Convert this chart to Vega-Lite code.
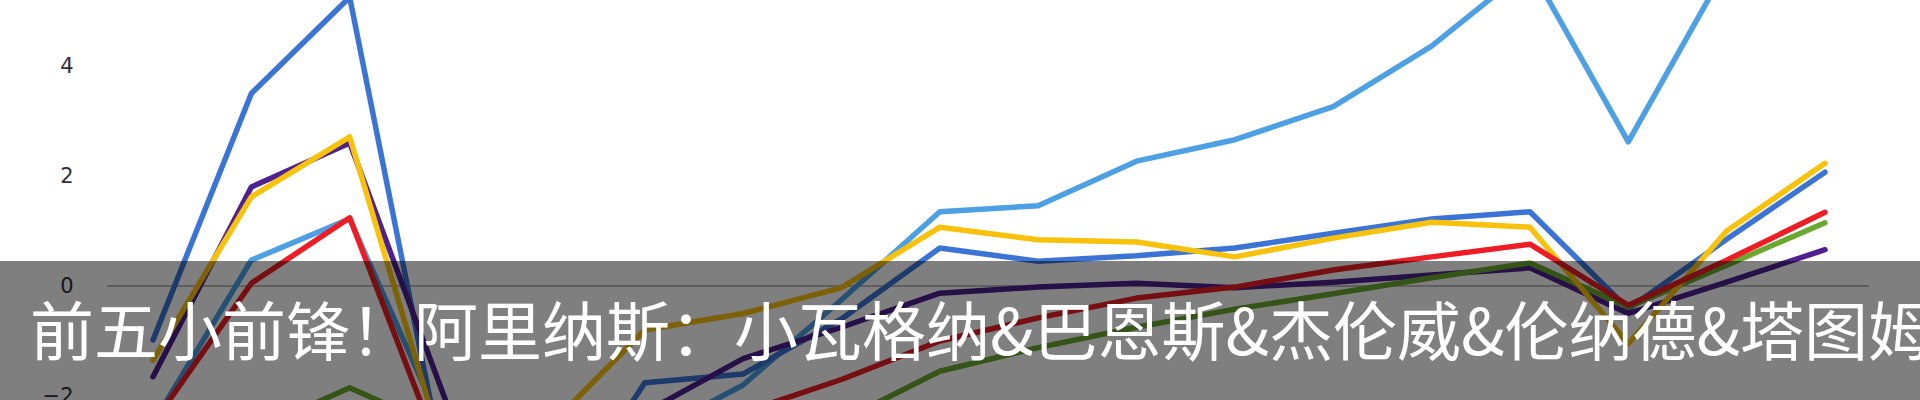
{
  "$schema": "https://vega.github.io/schema/vega-lite/v6.json",
  "description": "Six player trend lines with a caption band over the lower part.",
  "width": 1920,
  "height": 400,
  "autosize": {"type": "none"},
  "padding": 0,
  "background": "#ffffff",
  "datasets": {
    "series": [
      {"series": "系列2", "game": 1, "value": -2.5}, {"series": "系列2", "game": 2, "value": 0.47}, {"series": "系列2", "game": 3, "value": 1.22}, {"series": "系列2", "game": 4, "value": -2.8}, {"series": "系列2", "game": 5, "value": -3.2}, {"series": "系列2", "game": 6, "value": -2.75}, {"series": "系列2", "game": 7, "value": -1.8}, {"series": "系列2", "game": 8, "value": -0.25}, {"series": "系列2", "game": 9, "value": 1.35}, {"series": "系列2", "game": 10, "value": 1.46}, {"series": "系列2", "game": 11, "value": 2.27}, {"series": "系列2", "game": 12, "value": 2.66}, {"series": "系列2", "game": 13, "value": 3.26}, {"series": "系列2", "game": 14, "value": 4.36}, {"series": "系列2", "game": 15, "value": 5.8}, {"series": "系列2", "game": 16, "value": 2.62}, {"series": "系列2", "game": 17, "value": 5.8}, {"series": "系列2", "game": 18, "value": 6.3},
      {"series": "系列1", "game": 1, "value": -0.98}, {"series": "系列1", "game": 2, "value": 3.5}, {"series": "系列1", "game": 3, "value": 5.25}, {"series": "系列1", "game": 4, "value": -3.7}, {"series": "系列1", "game": 5, "value": -4.5}, {"series": "系列1", "game": 6, "value": -1.76}, {"series": "系列1", "game": 7, "value": -1.6}, {"series": "系列1", "game": 8, "value": -0.6}, {"series": "系列1", "game": 9, "value": 0.69}, {"series": "系列1", "game": 10, "value": 0.45}, {"series": "系列1", "game": 11, "value": 0.55}, {"series": "系列1", "game": 12, "value": 0.69}, {"series": "系列1", "game": 13, "value": 0.96}, {"series": "系列1", "game": 14, "value": 1.22}, {"series": "系列1", "game": 15, "value": 1.35}, {"series": "系列1", "game": 16, "value": -0.42}, {"series": "系列1", "game": 17, "value": 0.85}, {"series": "系列1", "game": 18, "value": 2.07},
      {"series": "系列4", "game": 1, "value": -1.65}, {"series": "系列4", "game": 2, "value": 1.8}, {"series": "系列4", "game": 3, "value": 2.6}, {"series": "系列4", "game": 4, "value": -2.2}, {"series": "系列4", "game": 5, "value": -2.8}, {"series": "系列4", "game": 6, "value": -2.3}, {"series": "系列4", "game": 7, "value": -1.32}, {"series": "系列4", "game": 8, "value": -0.75}, {"series": "系列4", "game": 9, "value": -0.13}, {"series": "系列4", "game": 10, "value": -0.02}, {"series": "系列4", "game": 11, "value": 0.05}, {"series": "系列4", "game": 12, "value": -0.03}, {"series": "系列4", "game": 13, "value": 0.07}, {"series": "系列4", "game": 14, "value": 0.2}, {"series": "系列4", "game": 15, "value": 0.33}, {"series": "系列4", "game": 16, "value": -0.5}, {"series": "系列4", "game": 17, "value": 0.07}, {"series": "系列4", "game": 18, "value": 0.66},
      {"series": "系列6", "game": 1, "value": -3.0}, {"series": "系列6", "game": 2, "value": -2.65}, {"series": "系列6", "game": 3, "value": -1.85}, {"series": "系列6", "game": 4, "value": -2.65}, {"series": "系列6", "game": 5, "value": -3.0}, {"series": "系列6", "game": 6, "value": -3.0}, {"series": "系列6", "game": 7, "value": -2.9}, {"series": "系列6", "game": 8, "value": -2.45}, {"series": "系列6", "game": 9, "value": -1.55}, {"series": "系列6", "game": 10, "value": -1.12}, {"series": "系列6", "game": 11, "value": -0.75}, {"series": "系列6", "game": 12, "value": -0.42}, {"series": "系列6", "game": 13, "value": -0.14}, {"series": "系列6", "game": 14, "value": 0.15}, {"series": "系列6", "game": 15, "value": 0.42}, {"series": "系列6", "game": 16, "value": -0.38}, {"series": "系列6", "game": 17, "value": 0.38}, {"series": "系列6", "game": 18, "value": 1.15},
      {"series": "系列3", "game": 1, "value": -1.35}, {"series": "系列3", "game": 2, "value": 1.62}, {"series": "系列3", "game": 3, "value": 2.71}, {"series": "系列3", "game": 4, "value": -3.3}, {"series": "系列3", "game": 5, "value": -2.6}, {"series": "系列3", "game": 6, "value": -0.8}, {"series": "系列3", "game": 7, "value": -0.5}, {"series": "系列3", "game": 8, "value": -0.03}, {"series": "系列3", "game": 9, "value": 1.07}, {"series": "系列3", "game": 10, "value": 0.84}, {"series": "系列3", "game": 11, "value": 0.8}, {"series": "系列3", "game": 12, "value": 0.53}, {"series": "系列3", "game": 13, "value": 0.87}, {"series": "系列3", "game": 14, "value": 1.16}, {"series": "系列3", "game": 15, "value": 1.07}, {"series": "系列3", "game": 16, "value": -1.05}, {"series": "系列3", "game": 17, "value": 1.0}, {"series": "系列3", "game": 18, "value": 2.23},
      {"series": "系列5", "game": 1, "value": -2.5}, {"series": "系列5", "game": 2, "value": 0.05}, {"series": "系列5", "game": 3, "value": 1.24}, {"series": "系列5", "game": 4, "value": -3.4}, {"series": "系列5", "game": 5, "value": -3.0}, {"series": "系列5", "game": 6, "value": -2.7}, {"series": "系列5", "game": 7, "value": -2.3}, {"series": "系列5", "game": 8, "value": -1.7}, {"series": "系列5", "game": 9, "value": -1.0}, {"series": "系列5", "game": 10, "value": -0.58}, {"series": "系列5", "game": 11, "value": -0.22}, {"series": "系列5", "game": 12, "value": -0.02}, {"series": "系列5", "game": 13, "value": 0.29}, {"series": "系列5", "game": 14, "value": 0.53}, {"series": "系列5", "game": 15, "value": 0.76}, {"series": "系列5", "game": 16, "value": -0.35}, {"series": "系列5", "game": 17, "value": 0.47}, {"series": "系列5", "game": 18, "value": 1.34}
    ],
    "caption": [
      {"text": "前五小前锋！阿里纳斯：小瓦格纳&巴恩斯&杰伦威&伦纳德&塔图姆"}
    ]
  },
  "layer": [
    {
      "data": {"name": "series"},
      "mark": {"type": "rule", "color": "#bdbdbd", "strokeWidth": 2},
      "encoding": {
        "x": {"datum": 0.54, "type": "quantitative", "scale": {"domain": [-0.5557, 18.966], "nice": false, "zero": false}, "axis": null},
        "x2": {"datum": 18.44},
        "y": {"datum": 0, "type": "quantitative", "scale": {"domain": [-2.0727, 5.2], "nice": false, "zero": false},
          "axis": {"values": [-2, 0, 2, 4], "domain": false, "ticks": false, "grid": false, "labelPadding": 0, "offset": -73, "labelFont": "DejaVu Sans", "labelFontSize": 21, "labelColor": "#2e2e3a", "title": null, "labelOverlap": false}}
      }
    },
    {
      "data": {"name": "series"},
      "mark": {"type": "line", "strokeWidth": 5.5, "strokeJoin": "round", "strokeCap": "round", "clip": true},
      "encoding": {
        "x": {"field": "game", "type": "quantitative", "scale": {"domain": [-0.5557, 18.966], "nice": false, "zero": false}, "axis": null},
        "y": {"field": "value", "type": "quantitative", "scale": {"domain": [-2.0727, 5.2], "nice": false, "zero": false}},
        "color": {
          "field": "series",
          "type": "nominal",
          "scale": {
            "domain": ["系列1", "系列2", "系列3", "系列4", "系列5", "系列6"],
            "range": ["#3b74d5", "#4da0e4", "#f8c20c", "#4e2090", "#ee1c24", "#6aa82f"]
          },
          "legend": null
        }
      }
    },
    {
      "data": {"name": "caption"},
      "mark": {"type": "rect", "color": "#000000", "opacity": 0.5, "clip": true},
      "encoding": {
        "x": {"datum": -1, "type": "quantitative"},
        "x2": {"datum": 20},
        "y": {"datum": 0.4545, "type": "quantitative"},
        "y2": {"datum": -3}
      }
    },
    {
      "data": {"name": "caption"},
      "mark": {"type": "text", "align": "left", "baseline": "alphabetic", "font": "Noto Sans CJK SC", "fontSize": 64, "color": "#ffffff"},
      "encoding": {
        "x": {"datum": -0.2506, "type": "quantitative"},
        "y": {"datum": -1.2545, "type": "quantitative"},
        "text": {"field": "text"}
      }
    }
  ],
  "config": {
    "view": {"stroke": null},
    "axis": {"zindex": 0}
  }
}
